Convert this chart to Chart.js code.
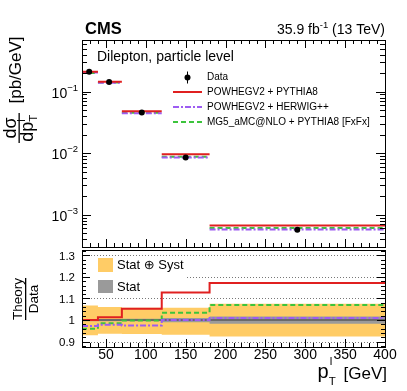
<!DOCTYPE html>
<html><head><meta charset="utf-8">
<script src="https://cdn.jsdelivr.net/npm/chart.js@4.4.0/dist/chart.umd.min.js"></script>
<style>
html,body{margin:0;padding:0;background:#fff;}
#wrap{position:relative;width:407px;height:391px;overflow:hidden;background:#fff;}
canvas{position:absolute;left:0;}
#c1{top:0;} #c2{top:250px;}
</style></head><body>
<div id="wrap"><canvas id="c1" width="407" height="251"></canvas><canvas id="c2" width="407" height="141"></canvas></div>
<script>
// ---------------- data ----------------
const binEdges = [20, 40, 70, 120, 180, 400];
const dataX = [29, 54, 95, 150, 290];
const dataY = [0.21, 0.143, 0.0457, 0.0085, 0.00057];
const powhegPythia8 = [0.21, 0.1449, 0.0481, 0.00959, 0.000668];
const powhegHerwig = [0.2041, 0.1399, 0.04456, 0.0085, 0.000576];
const mg5Pythia8 = [0.2016, 0.1409, 0.0456, 0.00879, 0.00061];
const ratioPowhegPythia8 = [1.0, 1.013, 1.053, 1.128, 1.172];
const ratioPowhegHerwig = [0.972, 0.978, 0.975, 1.0, 1.01];
const ratioMg5Pythia8 = [0.96, 0.985, 0.998, 1.034, 1.07];
const totUp = [1.068, 1.06, 1.057, 1.057, 1.076];
const totDown = [0.929, 0.937, 0.935, 0.932, 0.924];
const statUp = [1.005, 1.005, 1.006, 1.01, 1.017];
const statDown = [0.995, 0.995, 0.994, 0.99, 0.983];
const xTickLabels = [50, 100, 150, 200, 250, 300, 350, 400];
const logTickDecades = [-3, -2, -1];
const ratioTickLabels = [0.9, 1, 1.1, 1.2, 1.3];
const seriesNames = ['POWHEGV2 + PYTHIA8', 'POWHEGV2 + HERWIG++', 'MG5_aMC@NLO + PYTHIA8 [FxFx]'];

// ---------------- styles ----------------
const FONT = '"Liberation Sans", "DejaVu Sans", Arial, sans-serif';
const font = (s, b) => (b ? 'bold ' : '') + s + 'px ' + FONT;
const RED = '#e02020', VIOLET = '#9d5cf2', GREEN = '#3cc43c', ORANGE = '#ffcc66', GREY = '#9a9a9a';
const styles = [
  {color: RED, dash: []},
  {color: VIOLET, dash: [6, 2, 2, 2]},
  {color: GREEN, dash: [5, 3]}
];
const px = v => Math.round(v) + 0.5;

function segments(vals) {
  const pts = [];
  vals.forEach((v, i) => {
    pts.push({x: binEdges[i], y: v}, {x: binEdges[i + 1], y: v}, {x: binEdges[i + 1], y: null});
  });
  return pts;
}
function steps(vals) {
  return binEdges.map((e, i) => ({x: e, y: vals[Math.min(i, vals.length - 1)]}));
}

function drawFrame(ctx, a) {
  ctx.save();
  ctx.strokeStyle = '#000'; ctx.lineWidth = 1; ctx.setLineDash([]);
  ctx.strokeRect(px(a.left), px(a.top), Math.round(a.right) - Math.round(a.left), Math.round(a.bottom) - Math.round(a.top));
  ctx.restore();
}
function drawXTicks(ctx, xs, yEdge, dir) {
  ctx.beginPath();
  for (let v = 30; v < 400; v += 10) {
    const x = px(xs.getPixelForValue(v));
    const len = v % 50 === 0 ? 8 : 4;
    ctx.moveTo(x, yEdge); ctx.lineTo(x, yEdge + dir * len);
  }
  ctx.stroke();
}
function drawYTick(ctx, a, y, len) {
  ctx.moveTo(Math.round(a.left), y); ctx.lineTo(Math.round(a.left) + len, y);
  ctx.moveTo(Math.round(a.right), y); ctx.lineTo(Math.round(a.right) - len, y);
}
function richWidth(ctx, pieces) {
  let w = 0;
  pieces.forEach(p => { ctx.font = font(p.size, p.bold); w += (p.adv === false ? 0 : ctx.measureText(p.t).width) + (p.gap || 0); });
  return w;
}
function drawRich(ctx, pieces, x, y) {
  let cx = x;
  ctx.textAlign = 'left';
  pieces.forEach(p => {
    ctx.font = font(p.size, p.bold);
    ctx.fillText(p.t, cx + (p.dx || 0), y + (p.dy || 0));
    if (p.adv !== false) cx += ctx.measureText(p.t).width;
    cx += (p.gap || 0);
  });
}

// ---------------- upper panel ----------------
const upperPlugin = {
  id: 'upperDeco',
  afterDraw(chart) {
    const ctx = chart.ctx, a = chart.chartArea, xs = chart.scales.x, ys = chart.scales.y;
    ctx.save();
    ctx.strokeStyle = '#000'; ctx.fillStyle = '#000'; ctx.lineWidth = 1;
    drawFrame(ctx, a);
    drawXTicks(ctx, xs, Math.round(a.top), 1);
    drawXTicks(ctx, xs, Math.round(a.bottom), -1);
    ctx.beginPath();
    for (let d = -4; d <= 0; d++) {
      for (let m = 1; m <= 9; m++) {
        const v = m * Math.pow(10, d);
        if (v <= ys.min || v >= ys.max) continue;
        drawYTick(ctx, a, px(ys.getPixelForValue(v)), m === 1 ? 9 : 5);
      }
    }
    ctx.stroke();
    ctx.textBaseline = 'alphabetic';
    logTickDecades.forEach(d => {
      const y = ys.getPixelForValue(Math.pow(10, d));
      const pieces = [{t: '10', size: 14}, {t: '\u2212' + (-d), size: 9.5, dy: -7}];
      const w = richWidth(ctx, pieces);
      drawRich(ctx, pieces, 78 - w, y + 6);
    });
    ctx.font = font(16.5, true); ctx.textAlign = 'left';
    ctx.fillText('CMS', 85, 34);
    const lumi = [{t: '35.9 fb', size: 14}, {t: '-1', size: 9.5, dy: -6}, {t: ' (13 TeV)', size: 14}];
    drawRich(ctx, lumi, 385 - richWidth(ctx, lumi), 34);
    ctx.font = font(14); ctx.textAlign = 'left';
    ctx.fillText('Dilepton, particle level', 97, 61);
    // legend
    const lx0 = 173, lx1 = 202, tx = 207;
    const rows = [77.5, 92, 107, 122];
    ctx.beginPath(); ctx.arc(187.5, rows[0], 3, 0, Math.PI * 2); ctx.fill();
    ctx.beginPath(); ctx.moveTo(187.5, rows[0] - 6); ctx.lineTo(187.5, rows[0] + 6); ctx.stroke();
    ctx.font = font(10); ctx.textBaseline = 'middle';
    ctx.fillText('Data', tx, rows[0]);
    seriesNames.forEach((n, i) => {
      const y = rows[i + 1];
      ctx.save();
      ctx.strokeStyle = styles[i].color; ctx.lineWidth = 2; ctx.setLineDash(styles[i].dash);
      ctx.beginPath(); ctx.moveTo(lx0, y); ctx.lineTo(lx1, y); ctx.stroke();
      ctx.restore();
      ctx.fillText(n, tx, y);
    });
    ctx.textBaseline = 'alphabetic';
    // y title (rotated)
    ctx.save();
    ctx.translate(0, 128);
    ctx.rotate(-Math.PI / 2);
    ctx.textAlign = 'center';
    ctx.font = font(18);
    ctx.fillText('d\u03c3', 0, 16);
    ctx.fillRect(-15, 18.5, 30, 1.3);
    const den = [{t: 'dp', size: 18}, {t: 'T', size: 11.5, dy: 4, adv: false}, {t: 'l', size: 11.5, dy: -8}];
    const dw = richWidth(ctx, den) + 5;
    drawRich(ctx, den, -dw / 2, 33);
    ctx.font = font(17); ctx.textAlign = 'center';
    ctx.fillText('[pb/GeV]', 58, 21);
    ctx.restore();
    ctx.restore();
  }
};

const upperDatasets = [
  {data: dataX.map((x, i) => ({x, y: dataY[i]})), showLine: false, pointRadius: 3, pointBackgroundColor: '#000', pointBorderColor: '#000', pointBorderWidth: 0, order: 0},
  {data: segments(powhegPythia8), borderColor: RED, borderWidth: 2, pointRadius: 0, spanGaps: false, order: 1},
  {data: segments(powhegHerwig), borderColor: VIOLET, borderWidth: 2, borderDash: styles[1].dash, pointRadius: 0, spanGaps: false, order: 2},
  {data: segments(mg5Pythia8), borderColor: GREEN, borderWidth: 2, borderDash: styles[2].dash, pointRadius: 0, spanGaps: false, order: 3}
];

new Chart(document.getElementById('c1'), {
  type: 'line',
  data: {datasets: upperDatasets},
  options: {
    responsive: false, animation: false, devicePixelRatio: 1,
    layout: {padding: {left: 82, right: 22, top: 40, bottom: 1}},
    plugins: {legend: {display: false}, tooltip: {enabled: false}},
    scales: {
      x: {type: 'linear', min: 20, max: 400, display: false},
      y: {type: 'logarithmic', min: 3e-4, max: 0.69, display: false}
    }
  },
  plugins: [upperPlugin]
});

// ---------------- ratio panel ----------------
const ratioPlugin = {
  id: 'ratioDeco',
  beforeDatasetsDraw(chart) {
    const ctx = chart.ctx, a = chart.chartArea, ys = chart.scales.y;
    ctx.save();
    ctx.strokeStyle = '#777'; ctx.lineWidth = 1; ctx.setLineDash([1, 2]);
    ctx.beginPath();
    [0.9, 1.1, 1.2, 1.3].forEach(v => {
      const y = px(ys.getPixelForValue(v));
      ctx.moveTo(a.left, y); ctx.lineTo(a.right, y);
    });
    ctx.stroke();
    ctx.fillStyle = '#fff';
    ctx.fillRect(84, 7, 102, 34);
    ctx.restore();
  },
  afterDatasetsDraw(chart) {
    const ctx = chart.ctx;
    ctx.save();
    ctx.fillStyle = ORANGE; ctx.fillRect(98, 8, 15, 14);
    ctx.fillStyle = GREY; ctx.fillRect(98, 30, 15, 13);
    ctx.fillStyle = '#000'; ctx.font = font(13); ctx.textAlign = 'left'; ctx.textBaseline = 'middle';
    ctx.fillText('Stat \u2295 Syst', 117, 15.5);
    ctx.fillText('Stat', 117, 37);
    ctx.restore();
  },
  afterDraw(chart) {
    const ctx = chart.ctx, a = chart.chartArea, xs = chart.scales.x, ys = chart.scales.y;
    ctx.save();
    ctx.strokeStyle = '#000'; ctx.fillStyle = '#000'; ctx.lineWidth = 1;
    drawFrame(ctx, a);
    drawXTicks(ctx, xs, Math.round(a.bottom), -1);
    ctx.beginPath();
    for (let k = 44; k <= 66; k++) {
      const v = k * 0.02;
      if (v <= ys.min || v >= ys.max) continue;
      drawYTick(ctx, a, px(ys.getPixelForValue(v)), k % 5 === 0 ? 8 : 4);
    }
    ctx.stroke();
    ctx.font = font(11.5); ctx.textAlign = 'right'; ctx.textBaseline = 'middle';
    ratioTickLabels.forEach(v => ctx.fillText(String(v), 75, ys.getPixelForValue(v) + 1));
    ctx.font = font(14); ctx.textAlign = 'center'; ctx.textBaseline = 'alphabetic';
    xTickLabels.forEach(v => ctx.fillText(String(v), xs.getPixelForValue(v), 108.5));
    const gev = '[GeV]';
    ctx.font = font(17); const gw = ctx.measureText(gev).width;
    ctx.textAlign = 'left';
    ctx.fillText(gev, 387 - gw, 129);
    const ptx = 387 - gw - 26;
    ctx.font = font(20); ctx.fillText('p', ptx, 128);
    const pw = ctx.measureText('p').width;
    ctx.font = font(11.5); ctx.fillText('T', ptx + pw, 135);
    ctx.fillText('l', ptx + pw + 1, 115);
    ctx.translate(0, 49);
    ctx.rotate(-Math.PI / 2);
    ctx.textAlign = 'center';
    ctx.font = font(13.5);
    ctx.fillText('Theory', 0, 22);
    const tw = ctx.measureText('Theory').width;
    ctx.fillRect(-tw / 2, 25, tw, 1.3);
    ctx.fillText('Data', 0, 37.5);
    ctx.restore();
  }
};

const ratioDatasets = [
  {data: steps(ratioPowhegPythia8), stepped: true, borderColor: RED, borderWidth: 2, pointRadius: 0, fill: false, order: 1},
  {data: steps(ratioPowhegHerwig), stepped: true, borderColor: VIOLET, borderWidth: 2, borderDash: styles[1].dash, pointRadius: 0, fill: false, order: 2},
  {data: steps(ratioMg5Pythia8), stepped: true, borderColor: GREEN, borderWidth: 2, borderDash: styles[2].dash, pointRadius: 0, fill: false, order: 3},
  {data: [{x: 20, y: 1}, {x: 400, y: 1}], borderColor: '#5a5a5a', borderWidth: 1.5, pointRadius: 0, fill: false, order: 4},
  {data: steps(statUp), stepped: true, borderWidth: 0, borderColor: 'rgba(0,0,0,0)', pointRadius: 0, fill: false, order: 6},
  {data: steps(statDown), stepped: true, borderWidth: 0, borderColor: 'rgba(0,0,0,0)', backgroundColor: GREY, pointRadius: 0, fill: 4, order: 5},
  {data: steps(totUp), stepped: true, borderWidth: 0, borderColor: 'rgba(0,0,0,0)', pointRadius: 0, fill: false, order: 8},
  {data: steps(totDown), stepped: true, borderWidth: 0, borderColor: 'rgba(0,0,0,0)', backgroundColor: ORANGE, pointRadius: 0, fill: 6, order: 7}
];

new Chart(document.getElementById('c2'), {
  type: 'line',
  data: {datasets: ratioDatasets},
  options: {
    responsive: false, animation: false, devicePixelRatio: 1,
    layout: {padding: {left: 82, right: 22, top: 0, bottom: 44}},
    plugins: {legend: {display: false}, tooltip: {enabled: false}, filler: {propagate: false}},
    scales: {
      x: {type: 'linear', min: 20, max: 400, display: false},
      y: {type: 'linear', min: 0.875, max: 1.325, display: false}
    }
  },
  plugins: [ratioPlugin]
});
</script>
</body></html>
